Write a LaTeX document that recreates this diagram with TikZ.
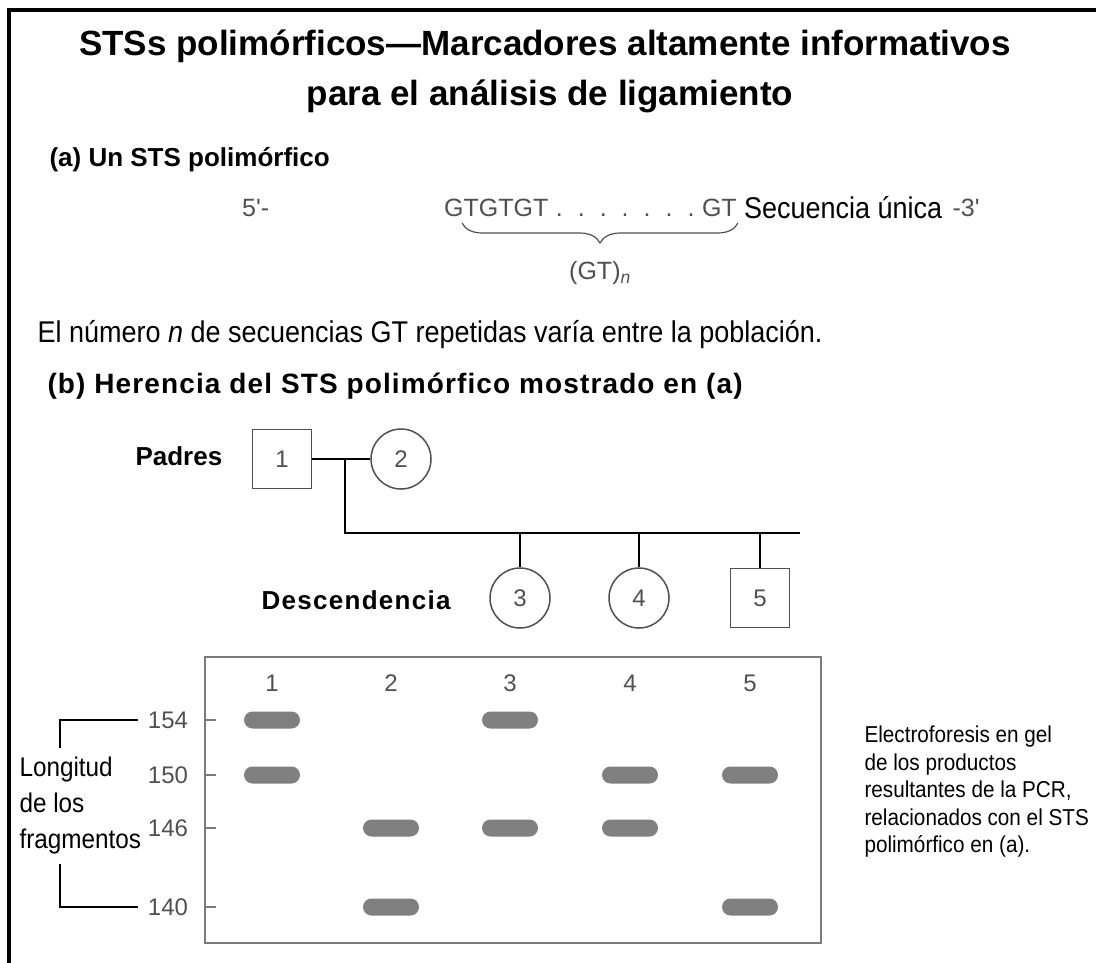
\documentclass[tikz,border=0pt]{standalone}
\usepackage{fontspec}
\setmainfont{Liberation Sans}
\newfontfamily\condfont[FakeStretch=0.9]{Liberation Sans}
\newfontfamily\spacedfont[LetterSpace=5]{Liberation Sans}
\newfontfamily\widefont[LetterSpace=4]{Liberation Sans}
\usetikzlibrary{positioning,decorations.pathreplacing}
\definecolor{seqgray}{HTML}{505050}
\definecolor{bandgray}{HTML}{808080}
\definecolor{gelgray}{HTML}{7A7A7A}
\newcommand{\seqdot}{\hspace{7.5pt}.\hspace{7.5pt}}

\begin{document}
\begin{tikzpicture}[
    x=1pt, y=-1pt,
    titletext/.style={font=\fontsize{35}{40}\selectfont\bfseries},
    parttext/.style={font=\fontsize{26}{30}\selectfont\bfseries, anchor=west},
    seqtext/.style={font=\fontsize{25}{29}\selectfont, text=seqgray, inner sep=1pt},
    condtext/.style={font=\condfont\fontsize{30}{36}\selectfont, anchor=west, align=left},
    male/.style={rectangle, draw=seqgray, line width=1.5pt, minimum size=59pt,
                 font=\fontsize{24}{28}\selectfont, text=seqgray},
    female/.style={circle, draw=seqgray, line width=1.5pt, minimum size=60pt,
                   font=\fontsize{24}{28}\selectfont, text=seqgray},
    pedline/.style={line width=2.5pt},
    gelnum/.style={font=\fontsize{24}{28}\selectfont, text=seqgray},
    band/.style={rectangle, rounded corners=8.5pt, fill=bandgray,
                 minimum width=56pt, minimum height=17pt, inner sep=0pt},
    bracket/.style={line width=2.5pt}
]
\useasboundingbox (0,0) rectangle (1096,963);

% frame
\draw[line width=4.5pt] (9,963) -- (9,10) -- (1096,10);

% title
\node[titletext] (title1) at (545,46) {STSs polimórficos—Marcadores altamente informativos};
\node[titletext] (title2) at (550,96) {para el análisis de ligamiento};

% (a) the STS
\node[parttext] (parta) at (46,160) {(a) Un STS polimórfico};
\node[seqtext, anchor=west] (five) at (241,208) {5\textquotesingle-};
\node[seqtext, anchor=west] (rep) at (443,208)
    {GTGTGT\seqdot\seqdot\seqdot\seqdot\seqdot\seqdot\seqdot GT};
\node[condtext, inner sep=1pt, right=5pt of rep] (uniq) {Secuencia única};
\node[seqtext, right=8pt of uniq] (three) {-3\textquotesingle};
\coordinate (braceL) at (462,223);
\coordinate (braceR) at (738,223);
\draw[seqgray, line width=1.2pt, decorate, decoration={brace, mirror, amplitude=20pt}]
    (braceL) -- (braceR);
\node[seqtext] (gtn) at (600,273) {(GT)\textsubscript{\itshape n}};

\node[condtext] (note) at (34,335)
    {El número \textit{n} de secuencias GT repetidas varía entre la población.};

% (b) pedigree
\node[parttext, font=\widefont\fontsize{28}{32}\selectfont\bfseries] (partb) at (44,386)
    {(b) Herencia del STS polimórfico mostrado en (a)};
\node[parttext] (padres) at (132,456) {Padres};
\node[male] (p1) at (282,459) {1};
\node[female] (p2) at (401,459) {2};
\coordinate (mate) at (345,459);
\coordinate (sibL) at (345,533);
\coordinate (sibR) at (800,533);
\node[parttext, font=\spacedfont\fontsize{26}{30}\selectfont\bfseries] (desc) at (258,600)
    {Descendencia};
\node[female] (c3) at (520,598) {3};
\node[female] (c4) at (639,598) {4};
\node[male] (c5) at (760,598) {5};

\draw[pedline] (p1) -- (p2);
\draw[pedline] (mate) -- (sibL) -- (sibR);
\foreach \kid in {c3,c4,c5}
    \draw[pedline] (\kid.north |- sibL) -- (\kid.north);

% gel
\node[draw=gelgray, line width=2pt, minimum width=616pt, minimum height=286pt,
      inner sep=0pt] (gel) at (513,800) {};
\foreach \n/\x in {1/272,2/391,3/510,4/630,5/750}
    \node[gelnum] (L\n) at (\x,683) {\n};
\foreach \s/\y in {154/720,150/775,146/828,140/907} {
    \node[gelnum] (t\s) at (168,\y) {\s};
    \draw[gelgray, line width=1.2pt] (gel.west |- t\s) -- ++(12,0);
}
\foreach \lane/\row in {1/154,1/150,2/146,2/140,3/154,3/146,4/150,4/146,5/150,5/140}
    \node[band] (b\lane-\row) at (L\lane |- t\row) {};

% size bracket
\coordinate (brtop) at (60,748);
\coordinate (brbot) at (60,864);
\draw[bracket] ([xshift=-6pt]t154.west) -| (brtop);
\draw[bracket] (brbot) |- ([xshift=-6pt]t140.west);
\node[condtext, font=\condfont\fontsize{27}{36}\selectfont] (len) at (16,806)
    {Longitud\\de los\\fragmentos};

\node[condtext, font=\condfont\fontsize{23}{27.5}\selectfont] (caption) at (861,792)
    {Electroforesis en gel\\de los productos\\resultantes de la PCR,\\relacionados con el STS\\polimórfico en (a).};

\end{tikzpicture}
\end{document}
